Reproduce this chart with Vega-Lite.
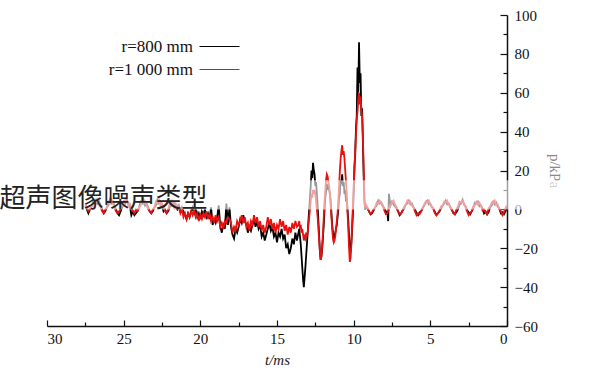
{
  "$schema": "https://vega.github.io/schema/vega-lite/v6.json",
  "width": 460,
  "height": 311,
  "autosize": {"type": "none"},
  "padding": {"left": 47, "top": 15, "right": 93, "bottom": 51},
  "background": "white",
  "config": {"view": {"stroke": null}, "font": "Liberation Serif", "axis": {"labelOverlap": false}},
  "datasets": {
    "wave": [
      {"t":0.0,"r=800 mm":1,"r=1 000 mm":2},{"t":0.1,"r=800 mm":-1,"r=1 000 mm":0.5},{"t":0.2,"r=800 mm":-2.5,"r=1 000 mm":-1.5},{"t":0.3,"r=800 mm":-1.5,"r=1 000 mm":-3},{"t":0.4,"r=800 mm":-2,"r=1 000 mm":-1},{"t":0.5,"r=800 mm":0.5,"r=1 000 mm":0},{"t":0.6,"r=800 mm":1.5,"r=1 000 mm":2.5},{"t":0.7,"r=800 mm":3.5,"r=1 000 mm":2},{"t":0.8,"r=800 mm":2.5,"r=1 000 mm":4.5},{"t":0.9,"r=800 mm":4,"r=1 000 mm":3},
      {"t":1.0,"r=800 mm":2,"r=1 000 mm":3.5},{"t":1.1,"r=800 mm":1,"r=1 000 mm":1.5},{"t":1.2,"r=800 mm":-1.5,"r=1 000 mm":0.5},{"t":1.3,"r=800 mm":-2.5,"r=1 000 mm":-2.5},{"t":1.4,"r=800 mm":-1,"r=1 000 mm":-1.5},{"t":1.5,"r=800 mm":-2,"r=1 000 mm":0},{"t":1.6,"r=800 mm":0.5,"r=1 000 mm":-0.5},{"t":1.7,"r=800 mm":2,"r=1 000 mm":2},{"t":1.8,"r=800 mm":1.5,"r=1 000 mm":3.5},{"t":1.9,"r=800 mm":4,"r=1 000 mm":2.5},
      {"t":2.0,"r=800 mm":3,"r=1 000 mm":4},{"t":2.1,"r=800 mm":3.5,"r=1 000 mm":2},{"t":2.2,"r=800 mm":0.5,"r=1 000 mm":1.5},{"t":2.3,"r=800 mm":-1,"r=1 000 mm":-1},{"t":2.4,"r=800 mm":-2.5,"r=1 000 mm":-2},{"t":2.5,"r=800 mm":-1.5,"r=1 000 mm":-3},{"t":2.6,"r=800 mm":-0.5,"r=1 000 mm":-1},{"t":2.7,"r=800 mm":1.5,"r=1 000 mm":1},{"t":2.8,"r=800 mm":2.5,"r=1 000 mm":3},{"t":2.9,"r=800 mm":5,"r=1 000 mm":4.5},
      {"t":3.0,"r=800 mm":3,"r=1 000 mm":3.5},{"t":3.1,"r=800 mm":2.5,"r=1 000 mm":4},{"t":3.2,"r=800 mm":0,"r=1 000 mm":1.5},{"t":3.3,"r=800 mm":-1.5,"r=1 000 mm":0},{"t":3.4,"r=800 mm":-2.5,"r=1 000 mm":-2.5},{"t":3.5,"r=800 mm":-2,"r=1 000 mm":-1.5},{"t":3.6,"r=800 mm":0,"r=1 000 mm":-0.5},{"t":3.7,"r=800 mm":1,"r=1 000 mm":1.5},{"t":3.8,"r=800 mm":3,"r=1 000 mm":2.5},{"t":3.9,"r=800 mm":2.5,"r=1 000 mm":4.5},
      {"t":4.0,"r=800 mm":4.5,"r=1 000 mm":3.5},{"t":4.1,"r=800 mm":3,"r=1 000 mm":4},{"t":4.2,"r=800 mm":2,"r=1 000 mm":2},{"t":4.3,"r=800 mm":0.5,"r=1 000 mm":1.5},{"t":4.4,"r=800 mm":-1,"r=1 000 mm":-0.5},{"t":4.5,"r=800 mm":-2,"r=1 000 mm":-2},{"t":4.6,"r=800 mm":-3,"r=1 000 mm":-3},{"t":4.7,"r=800 mm":-1.5,"r=1 000 mm":-2},{"t":4.8,"r=800 mm":0.5,"r=1 000 mm":0},{"t":4.9,"r=800 mm":1,"r=1 000 mm":1.5},
      {"t":5.0,"r=800 mm":3,"r=1 000 mm":2.5},{"t":5.1,"r=800 mm":2.5,"r=1 000 mm":4.5},{"t":5.2,"r=800 mm":4.5,"r=1 000 mm":3.5},{"t":5.3,"r=800 mm":3.5,"r=1 000 mm":4},{"t":5.4,"r=800 mm":2,"r=1 000 mm":2.5},{"t":5.5,"r=800 mm":0.5,"r=1 000 mm":1},{"t":5.6,"r=800 mm":-1,"r=1 000 mm":-1},{"t":5.7,"r=800 mm":-1.5,"r=1 000 mm":-2.5},{"t":5.8,"r=800 mm":-3,"r=1 000 mm":-2},{"t":5.9,"r=800 mm":-2,"r=1 000 mm":-3},
      {"t":6.0,"r=800 mm":0,"r=1 000 mm":-1},{"t":6.1,"r=800 mm":1,"r=1 000 mm":1},{"t":6.2,"r=800 mm":3,"r=1 000 mm":2},{"t":6.3,"r=800 mm":2.5,"r=1 000 mm":4},{"t":6.4,"r=800 mm":4.5,"r=1 000 mm":3.5},{"t":6.5,"r=800 mm":3,"r=1 000 mm":4.5},{"t":6.6,"r=800 mm":2.5,"r=1 000 mm":2.5},{"t":6.7,"r=800 mm":0.5,"r=1 000 mm":1.5},{"t":6.8,"r=800 mm":-0.5,"r=1 000 mm":-0.5},{"t":6.9,"r=800 mm":-2,"r=1 000 mm":-2},
      {"t":7.0,"r=800 mm":-3,"r=1 000 mm":-2.5},{"t":7.1,"r=800 mm":-1,"r=1 000 mm":-1},{"t":7.2,"r=800 mm":0.5,"r=1 000 mm":1},{"t":7.3,"r=800 mm":1.5,"r=1 000 mm":2.5},{"t":7.4,"r=800 mm":2.5,"r=1 000 mm":4.5},{"t":7.5,"r=800 mm":4,"r=1 000 mm":3.5},{"t":7.6,"r=800 mm":2,"r=1 000 mm":2.5},{"t":7.7,"r=800 mm":8,"r=1 000 mm":1},{"t":7.75,"r=800 mm":-6,"r=1 000 mm":-1},{"t":7.8,"r=800 mm":-2,"r=1 000 mm":-2},{"t":7.9,"r=800 mm":-1,"r=1 000 mm":-2.5},
      {"t":8.0,"r=800 mm":0.5,"r=1 000 mm":-0.5},{"t":8.1,"r=800 mm":2,"r=1 000 mm":1.5},{"t":8.2,"r=800 mm":3.5,"r=1 000 mm":3},{"t":8.3,"r=800 mm":3,"r=1 000 mm":4.5},{"t":8.4,"r=800 mm":4.5,"r=1 000 mm":3},{"t":8.5,"r=800 mm":2,"r=1 000 mm":3.5},{"t":8.6,"r=800 mm":1,"r=1 000 mm":1},{"t":8.7,"r=800 mm":-0.5,"r=1 000 mm":0},{"t":8.8,"r=800 mm":-2,"r=1 000 mm":-1.5},{"t":8.9,"r=800 mm":-2.5,"r=1 000 mm":-2.5},
      {"t":9.0,"r=800 mm":-1,"r=1 000 mm":-1},{"t":9.1,"r=800 mm":0.5,"r=1 000 mm":1},{"t":9.2,"r=800 mm":1.5,"r=1 000 mm":2.5},
      {"t":9.25,"r=800 mm":0,"r=1 000 mm":1},{"t":9.3,"r=800 mm":4,"r=1 000 mm":6},{"t":9.35,"r=800 mm":18,"r=1 000 mm":22},{"t":9.4,"r=800 mm":35,"r=1 000 mm":38},{"t":9.45,"r=800 mm":52,"r=1 000 mm":48},{"t":9.5,"r=800 mm":48,"r=1 000 mm":52},{"t":9.55,"r=800 mm":70,"r=1 000 mm":58},{"t":9.6,"r=800 mm":65,"r=1 000 mm":54},{"t":9.65,"r=800 mm":86,"r=1 000 mm":60},{"t":9.7,"r=800 mm":60,"r=1 000 mm":56},{"t":9.75,"r=800 mm":73,"r=1 000 mm":50},{"t":9.8,"r=800 mm":48,"r=1 000 mm":46},{"t":9.85,"r=800 mm":42,"r=1 000 mm":38},{"t":9.9,"r=800 mm":28,"r=1 000 mm":30},{"t":9.95,"r=800 mm":22,"r=1 000 mm":20},
      {"t":10.0,"r=800 mm":8,"r=1 000 mm":12},{"t":10.05,"r=800 mm":-2,"r=1 000 mm":2},{"t":10.1,"r=800 mm":-10,"r=1 000 mm":-8},{"t":10.15,"r=800 mm":-17,"r=1 000 mm":-18},{"t":10.2,"r=800 mm":-22,"r=1 000 mm":-25},{"t":10.25,"r=800 mm":-20,"r=1 000 mm":-27},{"t":10.3,"r=800 mm":-14,"r=1 000 mm":-20},{"t":10.35,"r=800 mm":-6,"r=1 000 mm":-10},{"t":10.4,"r=800 mm":0,"r=1 000 mm":-2},{"t":10.45,"r=800 mm":6,"r=1 000 mm":8},
      {"t":10.5,"r=800 mm":4,"r=1 000 mm":14},{"t":10.55,"r=800 mm":10,"r=1 000 mm":20},{"t":10.6,"r=800 mm":8,"r=1 000 mm":26},{"t":10.65,"r=800 mm":14,"r=1 000 mm":30},{"t":10.7,"r=800 mm":12,"r=1 000 mm":28},{"t":10.75,"r=800 mm":18,"r=1 000 mm":33},{"t":10.8,"r=800 mm":13,"r=1 000 mm":30},{"t":10.85,"r=800 mm":15,"r=1 000 mm":26},{"t":10.9,"r=800 mm":8,"r=1 000 mm":20},{"t":10.95,"r=800 mm":6,"r=1 000 mm":12},
      {"t":11.0,"r=800 mm":0,"r=1 000 mm":5},{"t":11.05,"r=800 mm":-4,"r=1 000 mm":-2},{"t":11.1,"r=800 mm":-8,"r=1 000 mm":-6},{"t":11.15,"r=800 mm":-10,"r=1 000 mm":-10},{"t":11.2,"r=800 mm":-12,"r=1 000 mm":-14},{"t":11.25,"r=800 mm":-14,"r=1 000 mm":-16},{"t":11.3,"r=800 mm":-15,"r=1 000 mm":-17},{"t":11.35,"r=800 mm":-12,"r=1 000 mm":-15},{"t":11.4,"r=800 mm":-8,"r=1 000 mm":-10},{"t":11.45,"r=800 mm":-2,"r=1 000 mm":-4},
      {"t":11.5,"r=800 mm":4,"r=1 000 mm":2},{"t":11.55,"r=800 mm":8,"r=1 000 mm":8},{"t":11.6,"r=800 mm":10,"r=1 000 mm":12},{"t":11.65,"r=800 mm":12,"r=1 000 mm":14},{"t":11.7,"r=800 mm":10,"r=1 000 mm":17},{"t":11.75,"r=800 mm":13,"r=1 000 mm":18},{"t":11.8,"r=800 mm":9,"r=1 000 mm":15},{"t":11.85,"r=800 mm":6,"r=1 000 mm":10},{"t":11.9,"r=800 mm":0,"r=1 000 mm":4},{"t":11.95,"r=800 mm":-8,"r=1 000 mm":-4},
      {"t":12.0,"r=800 mm":-14,"r=1 000 mm":-12},{"t":12.05,"r=800 mm":-20,"r=1 000 mm":-18},{"t":12.1,"r=800 mm":-24,"r=1 000 mm":-24},{"t":12.15,"r=800 mm":-26,"r=1 000 mm":-26},{"t":12.2,"r=800 mm":-22,"r=1 000 mm":-22},{"t":12.25,"r=800 mm":-14,"r=1 000 mm":-16},{"t":12.3,"r=800 mm":-6,"r=1 000 mm":-10},{"t":12.35,"r=800 mm":2,"r=1 000 mm":-4},{"t":12.4,"r=800 mm":8,"r=1 000 mm":0},{"t":12.45,"r=800 mm":14,"r=1 000 mm":4},
      {"t":12.5,"r=800 mm":12,"r=1 000 mm":8},{"t":12.55,"r=800 mm":18,"r=1 000 mm":10},{"t":12.6,"r=800 mm":20,"r=1 000 mm":8},{"t":12.65,"r=800 mm":24,"r=1 000 mm":10},{"t":12.7,"r=800 mm":16,"r=1 000 mm":6},{"t":12.75,"r=800 mm":20,"r=1 000 mm":8},{"t":12.8,"r=800 mm":12,"r=1 000 mm":4},{"t":12.85,"r=800 mm":6,"r=1 000 mm":0},{"t":12.9,"r=800 mm":0,"r=1 000 mm":-4},{"t":12.95,"r=800 mm":-6,"r=1 000 mm":-8},
      {"t":13.0,"r=800 mm":-12,"r=1 000 mm":-12},{"t":13.05,"r=800 mm":-18,"r=1 000 mm":-14},{"t":13.1,"r=800 mm":-24,"r=1 000 mm":-12},{"t":13.15,"r=800 mm":-30,"r=1 000 mm":-15},{"t":13.2,"r=800 mm":-35,"r=1 000 mm":-14},{"t":13.25,"r=800 mm":-40,"r=1 000 mm":-16},{"t":13.3,"r=800 mm":-36,"r=1 000 mm":-13},{"t":13.35,"r=800 mm":-30,"r=1 000 mm":-10},{"t":13.4,"r=800 mm":-24,"r=1 000 mm":-12},{"t":13.45,"r=800 mm":-18,"r=1 000 mm":-8},
      {"t":13.5,"r=800 mm":-14,"r=1 000 mm":-10},{"t":13.55,"r=800 mm":-10,"r=1 000 mm":-6},{"t":13.6,"r=800 mm":-12,"r=1 000 mm":-8},{"t":13.7,"r=800 mm":-16,"r=1 000 mm":-9},{"t":13.8,"r=800 mm":-12,"r=1 000 mm":-6},{"t":13.9,"r=800 mm":-18,"r=1 000 mm":-10},
      {"t":14.0,"r=800 mm":-15,"r=1 000 mm":-7},{"t":14.1,"r=800 mm":-20,"r=1 000 mm":-12},{"t":14.2,"r=800 mm":-23,"r=1 000 mm":-9},{"t":14.3,"r=800 mm":-18,"r=1 000 mm":-13},{"t":14.4,"r=800 mm":-20,"r=1 000 mm":-8},{"t":14.5,"r=800 mm":-13,"r=1 000 mm":-11},{"t":14.6,"r=800 mm":-15,"r=1 000 mm":-6},{"t":14.7,"r=800 mm":-10,"r=1 000 mm":-9},{"t":14.8,"r=800 mm":-14,"r=1 000 mm":-5},{"t":14.9,"r=800 mm":-12,"r=1 000 mm":-10},
      {"t":15.0,"r=800 mm":-17,"r=1 000 mm":-8},{"t":15.1,"r=800 mm":-12,"r=1 000 mm":-12},{"t":15.2,"r=800 mm":-14,"r=1 000 mm":-7},{"t":15.3,"r=800 mm":-9,"r=1 000 mm":-10},{"t":15.4,"r=800 mm":-11,"r=1 000 mm":-5},{"t":15.5,"r=800 mm":-7,"r=1 000 mm":-8},{"t":15.6,"r=800 mm":-10,"r=1 000 mm":-4},{"t":15.7,"r=800 mm":-13,"r=1 000 mm":-9},{"t":15.8,"r=800 mm":-16,"r=1 000 mm":-12},{"t":15.9,"r=800 mm":-12,"r=1 000 mm":-8},
      {"t":16.0,"r=800 mm":-14,"r=1 000 mm":-11},{"t":16.1,"r=800 mm":-8,"r=1 000 mm":-6},{"t":16.2,"r=800 mm":-10,"r=1 000 mm":-9},{"t":16.3,"r=800 mm":-6,"r=1 000 mm":-4},{"t":16.4,"r=800 mm":-9,"r=1 000 mm":-7},{"t":16.5,"r=800 mm":-5,"r=1 000 mm":-3},{"t":16.6,"r=800 mm":-8,"r=1 000 mm":-8},{"t":16.7,"r=800 mm":-11,"r=1 000 mm":-6},{"t":16.8,"r=800 mm":-9,"r=1 000 mm":-11},{"t":16.9,"r=800 mm":-12,"r=1 000 mm":-7},
      {"t":17.0,"r=800 mm":-8,"r=1 000 mm":-9},{"t":17.1,"r=800 mm":-6,"r=1 000 mm":-4},{"t":17.2,"r=800 mm":-3,"r=1 000 mm":-7},{"t":17.3,"r=800 mm":-7,"r=1 000 mm":-3},{"t":17.4,"r=800 mm":-5,"r=1 000 mm":-6},{"t":17.5,"r=800 mm":-9,"r=1 000 mm":-8},{"t":17.6,"r=800 mm":-12,"r=1 000 mm":-6},{"t":17.7,"r=800 mm":-10,"r=1 000 mm":-11},{"t":17.8,"r=800 mm":-15,"r=1 000 mm":-9},{"t":17.9,"r=800 mm":-13,"r=1 000 mm":-12},
      {"t":18.0,"r=800 mm":-9,"r=1 000 mm":-7},{"t":18.1,"r=800 mm":1,"r=1 000 mm":-5},{"t":18.2,"r=800 mm":-8,"r=1 000 mm":-4},{"t":18.3,"r=800 mm":3,"r=1 000 mm":-7},{"t":18.4,"r=800 mm":-10,"r=1 000 mm":-6},{"t":18.5,"r=800 mm":-8,"r=1 000 mm":-10},{"t":18.6,"r=800 mm":-12,"r=1 000 mm":-7},{"t":18.7,"r=800 mm":-9,"r=1 000 mm":-9},{"t":18.8,"r=800 mm":2,"r=1 000 mm":-4},{"t":18.9,"r=800 mm":-4,"r=1 000 mm":-6},
      {"t":19.0,"r=800 mm":-7,"r=1 000 mm":-3},{"t":19.1,"r=800 mm":-5,"r=1 000 mm":-7},{"t":19.2,"r=800 mm":-8,"r=1 000 mm":-4},{"t":19.3,"r=800 mm":1,"r=1 000 mm":-6},{"t":19.4,"r=800 mm":-5,"r=1 000 mm":-2},{"t":19.5,"r=800 mm":-2,"r=1 000 mm":-5},{"t":19.6,"r=800 mm":-4,"r=1 000 mm":-1},{"t":19.7,"r=800 mm":0,"r=1 000 mm":-4},{"t":19.8,"r=800 mm":-3,"r=1 000 mm":-2},{"t":19.9,"r=800 mm":-1,"r=1 000 mm":-5},
      {"t":20.0,"r=800 mm":-5,"r=1 000 mm":-3},{"t":20.1,"r=800 mm":-2,"r=1 000 mm":-6},{"t":20.2,"r=800 mm":-4,"r=1 000 mm":-2},{"t":20.3,"r=800 mm":0,"r=1 000 mm":-4},{"t":20.4,"r=800 mm":-2,"r=1 000 mm":0},{"t":20.5,"r=800 mm":1,"r=1 000 mm":-3},{"t":20.6,"r=800 mm":-1,"r=1 000 mm":-1},{"t":20.7,"r=800 mm":-4,"r=1 000 mm":-4},{"t":20.8,"r=800 mm":-2,"r=1 000 mm":-2},{"t":20.9,"r=800 mm":-5,"r=1 000 mm":-5},
      {"t":21.0,"r=800 mm":-3,"r=1 000 mm":-2},{"t":21.1,"r=800 mm":-1,"r=1 000 mm":-4},{"t":21.2,"r=800 mm":1,"r=1 000 mm":0},{"t":21.3,"r=800 mm":-1,"r=1 000 mm":-2},{"t":21.4,"r=800 mm":2,"r=1 000 mm":1},{"t":21.5,"r=800 mm":0,"r=1 000 mm":2},{"t":21.6,"r=800 mm":1,"r=1 000 mm":3},{"t":21.7,"r=800 mm":3,"r=1 000 mm":1},{"t":21.8,"r=800 mm":2,"r=1 000 mm":4},{"t":21.9,"r=800 mm":4,"r=1 000 mm":2},
      {"t":22.0,"r=800 mm":1,"r=1 000 mm":3},{"t":22.1,"r=800 mm":-1,"r=1 000 mm":0},{"t":22.2,"r=800 mm":-2,"r=1 000 mm":-2},{"t":22.3,"r=800 mm":0,"r=1 000 mm":-1},{"t":22.4,"r=800 mm":-1,"r=1 000 mm":1},{"t":22.5,"r=800 mm":2,"r=1 000 mm":3},{"t":22.6,"r=800 mm":4,"r=1 000 mm":2},{"t":22.7,"r=800 mm":3,"r=1 000 mm":5},{"t":22.8,"r=800 mm":5,"r=1 000 mm":3},{"t":22.9,"r=800 mm":2,"r=1 000 mm":4},
      {"t":23.0,"r=800 mm":1,"r=1 000 mm":1},{"t":23.1,"r=800 mm":-1,"r=1 000 mm":0},{"t":23.2,"r=800 mm":-2,"r=1 000 mm":-2},{"t":23.3,"r=800 mm":-1,"r=1 000 mm":-1},{"t":23.4,"r=800 mm":1,"r=1 000 mm":0},{"t":23.5,"r=800 mm":3,"r=1 000 mm":2},{"t":23.6,"r=800 mm":2,"r=1 000 mm":4},{"t":23.7,"r=800 mm":5,"r=1 000 mm":3},{"t":23.8,"r=800 mm":3,"r=1 000 mm":5},{"t":23.9,"r=800 mm":4,"r=1 000 mm":2},
      {"t":24.0,"r=800 mm":1,"r=1 000 mm":1},{"t":24.1,"r=800 mm":-1,"r=1 000 mm":-1},{"t":24.2,"r=800 mm":-2,"r=1 000 mm":0},{"t":24.3,"r=800 mm":-3,"r=1 000 mm":-2},{"t":24.4,"r=800 mm":-1,"r=1 000 mm":-1},{"t":24.5,"r=800 mm":-3,"r=1 000 mm":1},{"t":24.6,"r=800 mm":2,"r=1 000 mm":3},{"t":24.7,"r=800 mm":3,"r=1 000 mm":2},{"t":24.8,"r=800 mm":5,"r=1 000 mm":4},{"t":24.9,"r=800 mm":3,"r=1 000 mm":5},
      {"t":25.0,"r=800 mm":4,"r=1 000 mm":2},{"t":25.1,"r=800 mm":1,"r=1 000 mm":2},{"t":25.2,"r=800 mm":-1,"r=1 000 mm":0},{"t":25.3,"r=800 mm":-3,"r=1 000 mm":-1},{"t":25.4,"r=800 mm":-2,"r=1 000 mm":-2},{"t":25.5,"r=800 mm":0,"r=1 000 mm":-1},{"t":25.6,"r=800 mm":2,"r=1 000 mm":1},{"t":25.7,"r=800 mm":4,"r=1 000 mm":3},{"t":25.8,"r=800 mm":3,"r=1 000 mm":5},{"t":25.9,"r=800 mm":5,"r=1 000 mm":3},
      {"t":26.0,"r=800 mm":2,"r=1 000 mm":4},{"t":26.1,"r=800 mm":1,"r=1 000 mm":1},{"t":26.2,"r=800 mm":-1,"r=1 000 mm":0},{"t":26.3,"r=800 mm":-2,"r=1 000 mm":-2},{"t":26.4,"r=800 mm":0,"r=1 000 mm":-1},{"t":26.5,"r=800 mm":2,"r=1 000 mm":1},{"t":26.6,"r=800 mm":4,"r=1 000 mm":3},{"t":26.7,"r=800 mm":3,"r=1 000 mm":5},{"t":26.8,"r=800 mm":5,"r=1 000 mm":3},{"t":26.9,"r=800 mm":3,"r=1 000 mm":4},
      {"t":27.0,"r=800 mm":4,"r=1 000 mm":2},{"t":27.1,"r=800 mm":1,"r=1 000 mm":2},{"t":27.2,"r=800 mm":0,"r=1 000 mm":0},{"t":27.3,"r=800 mm":-2,"r=1 000 mm":-1},{"t":27.4,"r=800 mm":0,"r=1 000 mm":1},{"t":27.5,"r=800 mm":2,"r=1 000 mm":3}
    ],
    "band": [{"t0": 33.1, "t1": -3.5, "p0": 0, "p1": 15}],
    "note": [{"t": 33.1, "p": 5.5, "label": "超声图像噪声类型"}]
  },
  "layer": [
    {
      "data": {"name": "wave"},
      "transform": [{"fold": ["r=800 mm", "r=1 000 mm"], "as": ["series", "p"]}],
      "mark": {"type": "line", "strokeWidth": 1.8, "clip": true},
      "encoding": {
        "x": {
          "field": "t", "type": "quantitative",
          "scale": {"domain": [0, 30], "reverse": true, "nice": false, "zero": false},
          "axis": {
            "title": "t/ms", "titleFont": "Liberation Serif", "titleFontSize": 15, "titleFontWeight": "normal", "titleFontStyle": "italic", "titleColor": "#222", "titlePadding": 4,
            "values": [0, 2.5, 5, 7.5, 10, 12.5, 15, 17.5, 20, 22.5, 25, 27.5, 30],
            "tickCount": 100,
            "labelExpr": "datum.value % 5 === 0 ? format(datum.value, 'd') : ''",
            "labelFont": "Liberation Serif", "labelFontSize": 15, "labelColor": "#111", "labelPadding": 11,
            "tickSize": {"condition": {"test": "datum.value % 5 === 0", "value": -6}, "value": -4},
            "tickColor": "#111", "tickWidth": 1.2, "domainColor": "#111", "domainWidth": 1.5, "grid": false
          }
        },
        "y": {
          "field": "p", "type": "quantitative",
          "scale": {"domain": [-60, 100], "nice": false, "zero": false},
          "axis": {
            "orient": "right",
            "title": "p/kPa", "titleFont": "Liberation Serif", "titleFontSize": 15, "titleFontWeight": "normal", "titleColor": "#888", "titlePadding": 9,
            "values": [-60, -50, -40, -30, -20, -10, 0, 10, 20, 30, 40, 50, 60, 70, 80, 90, 100],
            "tickCount": 100,
            "labelExpr": "datum.value % 20 === 0 ? format(datum.value, 'd') : ''",
            "labelFont": "Liberation Serif", "labelFontSize": 15, "labelColor": "#111", "labelPadding": 14,
            "tickSize": {"condition": {"test": "datum.value % 20 === 0", "value": -7}, "value": -4},
            "tickColor": "#111", "tickWidth": 1.2, "domainColor": "#111", "domainWidth": 1.5, "grid": false
          }
        },
        "color": {
          "field": "series", "type": "nominal",
          "scale": {"domain": ["r=800 mm", "r=1 000 mm"], "range": ["#000000", "#e8110f"]},
          "legend": {
            "orient": "none", "legendX": 164, "legendY": 23, "title": null,
            "symbolType": "M-4,0H4", "symbolSize": 100, "symbolStrokeWidth": 1.2,
            "labelFont": "Liberation Serif", "labelFontSize": 17, "labelColor": "#111",
            "labelAlign": "right", "labelOffset": -35, "rowPadding": 5
          }
        }
      }
    },
    {
      "data": {"name": "band"},
      "mark": {"type": "rect", "fill": "white", "opacity": 0.6, "clip": false},
      "encoding": {
        "x": {"field": "t0", "type": "quantitative"},
        "x2": {"field": "t1"},
        "y": {"field": "p0", "type": "quantitative"},
        "y2": {"field": "p1"}
      }
    },
    {
      "data": {"name": "note"},
      "mark": {"type": "text", "align": "left", "baseline": "middle", "font": "Noto Sans CJK SC", "fontSize": 26, "color": "#222", "clip": false},
      "encoding": {
        "x": {"field": "t", "type": "quantitative"},
        "y": {"field": "p", "type": "quantitative"},
        "text": {"field": "label"}
      }
    }
  ]
}
